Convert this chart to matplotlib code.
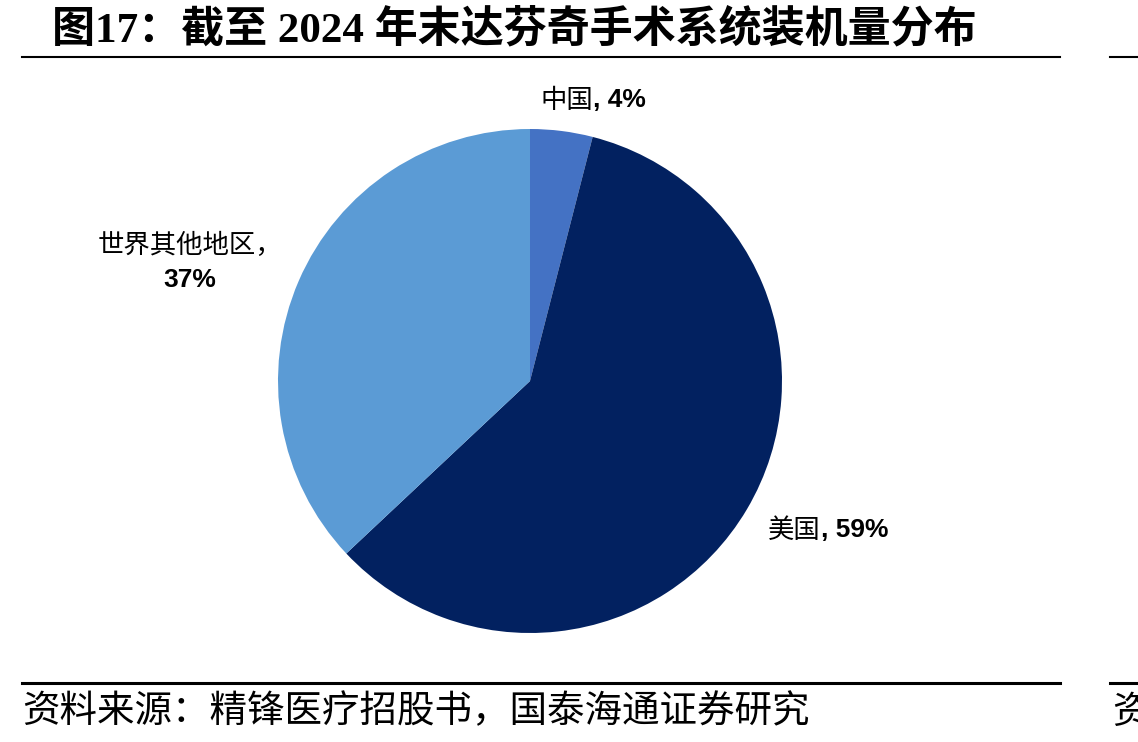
import matplotlib
matplotlib.use('Agg')
import matplotlib.pyplot as plt
from matplotlib.lines import Line2D

plt.rcParams['font.family'] = ['Liberation Sans', 'Noto Sans CJK SC', 'DejaVu Sans']

# data
regions = ["中国", "美国", "世界其他地区"]
shares = [4, 59, 37]
colors = ["#4472C4", "#022160", "#5B9BD5"]

W, H = 1138, 742
fig = plt.figure(figsize=(W / 100, H / 100), dpi=100)
fig.patch.set_facecolor('white')


def px(x, y):
    return x / W, 1 - y / H


cjk = ['Noto Sans CJK SC', 'DejaVu Sans']
serif_cjk = ['Liberation Serif', 'Noto Sans CJK SC', 'DejaVu Sans']
sans_cjk = ['Liberation Sans', 'Noto Sans CJK SC', 'DejaVu Sans']

# title + rules
fig.text(*px(52, 30), "图17：截至 2024 年末达芬奇手术系统装机量分布", fontsize=31,
         fontweight='bold', family=serif_cjk, ha='left', va='center')
fig.add_artist(Line2D([22 / W, 1060 / W], [1 - 57 / H] * 2, color='black', lw=1.5))
fig.add_artist(Line2D([1110 / W, 1.0], [1 - 57 / H] * 2, color='black', lw=1.5))
fig.add_artist(Line2D([22 / W, 1060 / W], [1 - 683 / H] * 2, color='black', lw=2.2))
fig.add_artist(Line2D([1110 / W, 1.0], [1 - 683 / H] * 2, color='black', lw=2.2))

# footer
fig.text(*px(22, 712), "资料来源：精锋医疗招股书，国泰海通证券研究", fontsize=27,
         family=cjk, ha='left', va='center')
# edge of the neighbouring panel's footer, cut off as in the source page
fig.text(*px(1112, 712), "资", fontsize=27, family=cjk, ha='left', va='center')

# pie: center (530, 381), radius 252 px
cx, cy, r = 530, 381, 252
ax = fig.add_axes([(cx - r) / W, (H - cy - r) / H, 2 * r / W, 2 * r / H])
ax.pie(shares, colors=colors, startangle=90, counterclock=False, radius=1,
       wedgeprops=dict(linewidth=0))
ax.set_xlim(-1, 1)
ax.set_ylim(-1, 1)
ax.set_aspect('equal')
ax.axis('off')

fs = 19


def two_part(x, y, name, pct):
    t1 = fig.text(*px(x, y), name, fontsize=fs, family=cjk, ha='left', va='center')
    ax.annotate(pct, xy=(1, 0.5), xycoords=t1, ha='left', va='center',
                fontsize=fs, fontweight='bold', family=sans_cjk)


two_part(540, 100, regions[0], f", {shares[0]}%")
two_part(768, 530, regions[1], f", {shares[1]}%")
fig.text(*px(190, 245), regions[2] + "，", fontsize=fs, family=cjk, ha='center', va='center')
fig.text(*px(190, 280), f"{shares[2]}%", fontsize=fs, fontweight='bold',
         family=sans_cjk, ha='center', va='center')

fig.savefig("out.png", dpi=100, facecolor='white')
